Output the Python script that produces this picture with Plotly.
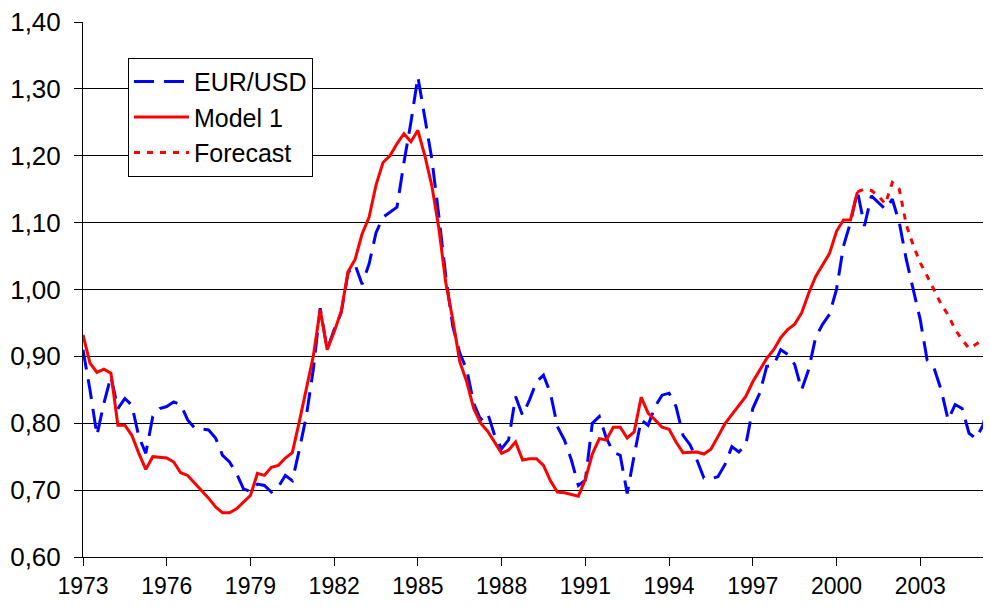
import plotly.graph_objects as go

start_year = 1973
eur_usd = [0.910, 0.850, 0.782, 0.830, 0.870, 0.822, 0.837, 0.827, 0.780, 0.755,
           0.810, 0.822, 0.825, 0.832, 0.828, 0.805, 0.793, 0.792, 0.790, 0.778,
           0.752, 0.742, 0.725, 0.702, 0.698, 0.709, 0.707, 0.697, 0.705, 0.722,
           0.714, 0.760, 0.810, 0.880, 0.972, 0.910, 0.940, 0.965, 1.025, 1.037,
           1.008, 1.038, 1.085, 1.108, 1.116, 1.123, 1.190, 1.250, 1.318, 1.255,
           1.195, 1.110, 1.020, 0.945, 0.905, 0.880, 0.830, 0.805, 0.815, 0.782,
           0.762, 0.775, 0.840, 0.812, 0.835, 0.862, 0.872, 0.845, 0.795, 0.775,
           0.745, 0.707, 0.715, 0.800, 0.810, 0.778, 0.757, 0.752, 0.695, 0.752,
           0.805, 0.797, 0.825, 0.842, 0.845, 0.825, 0.782, 0.768, 0.745, 0.718,
           0.717, 0.720, 0.738, 0.765, 0.757, 0.768, 0.822, 0.845, 0.885, 0.887,
           0.910, 0.903, 0.888, 0.850, 0.880, 0.928, 0.948, 0.963, 1.000, 1.065,
           1.100, 1.147, 1.095, 1.140, 1.130, 1.120, 1.135, 1.100, 1.045, 1.000,
           0.955, 0.894, 0.882, 0.850, 0.805, 0.828, 0.822, 0.785, 0.777, 0.797,
           0.840]

model_1 = [0.932, 0.890, 0.876, 0.881, 0.875, 0.797, 0.797, 0.782, 0.755, 0.731,
           0.750, 0.749, 0.748, 0.742, 0.726, 0.722, 0.711, 0.700, 0.688, 0.675,
           0.666, 0.666, 0.672, 0.682, 0.692, 0.725, 0.722, 0.734, 0.737, 0.748,
           0.756, 0.802, 0.852, 0.900, 0.970, 0.910, 0.937, 0.967, 1.027, 1.045,
           1.083, 1.108, 1.156, 1.190, 1.200, 1.218, 1.233, 1.221, 1.238, 1.200,
           1.155, 1.092, 1.010, 0.955, 0.892, 0.862, 0.822, 0.800, 0.788, 0.772,
           0.755, 0.760, 0.772, 0.745, 0.747, 0.747, 0.737, 0.714, 0.697, 0.696,
           0.694, 0.691, 0.716, 0.754, 0.777, 0.775, 0.794, 0.794, 0.778, 0.787,
           0.839, 0.815, 0.805, 0.794, 0.791, 0.772, 0.756, 0.756, 0.757, 0.754,
           0.761, 0.780, 0.799, 0.813, 0.827, 0.840, 0.862, 0.880, 0.897, 0.910,
           0.928, 0.940, 0.948, 0.965, 0.994, 1.019, 1.036, 1.054, 1.087, 1.104,
           1.104, 1.146]

forecast_start_index = 111
forecast = [1.146, 1.150, 1.148, 1.140, 1.128, 1.160, 1.150, 1.097, 1.066, 1.040,
            1.020, 0.998, 0.978, 0.962, 0.940, 0.925, 0.912, 0.918, 0.925]

tick_years = [1973, 1976, 1979, 1982, 1985, 1988, 1991, 1994, 1997, 2000, 2003]
tick_labels = [str(y) for y in tick_years]
y_ticks = [0.60, 0.70, 0.80, 0.90, 1.00, 1.10, 1.20, 1.30, 1.40]
y_labels = ["0,60", "0,70", "0,80", "0,90", "1,00", "1,10", "1,20", "1,30", "1,40"]


def quarters(first, n):
    return [start_year + (first + i) / 4 for i in range(n)]


fig = go.Figure()
fig.add_trace(go.Scatter(
    x=quarters(0, len(eur_usd)), y=eur_usd, mode="lines", name="EUR/USD",
    line=dict(color="#0000FF", width=3, dash="20px,10px")))
fig.add_trace(go.Scatter(
    x=quarters(0, len(model_1)), y=model_1, mode="lines", name="Model 1",
    line=dict(color="#FF0000", width=3)))
fig.add_trace(go.Scatter(
    x=quarters(forecast_start_index, len(forecast)), y=forecast, mode="lines",
    name="Forecast", line=dict(color="#FF0000", width=3, dash="6px,7px")))

font_family = "Liberation Sans, Arial, sans-serif"
fig.update_layout(
    width=983, height=593,
    margin=dict(l=75, r=1, t=14, b=44),
    paper_bgcolor="white", plot_bgcolor="white",
    font=dict(family=font_family, size=23, color="black"),
    showlegend=True,
    legend=dict(x=0.0496, y=0.933, xanchor="left", yanchor="top",
                bgcolor="white", bordercolor="black", borderwidth=1,
                font=dict(size=25), tracegroupgap=0, itemwidth=55),
    xaxis=dict(range=[1973, 2005.5], tickvals=tick_years, ticktext=tick_labels,
               automargin=False, tickfont=dict(size=23), ticklabeloverflow="allow",
               showgrid=False, zeroline=False, showline=True, linecolor="black",
               linewidth=1, ticks="outside", ticklen=8, tickcolor="black"),
    yaxis=dict(range=[0.60, 1.40], tickvals=y_ticks, ticktext=y_labels,
               automargin=False, tickfont=dict(size=26), ticklabelstandoff=8,
               ticklabeloverflow="allow",
               showgrid=True, gridcolor="#000000", gridwidth=1, zeroline=False,
               showline=True, linecolor="black", linewidth=1,
               ticks="outside", ticklen=8, tickcolor="black"),
)

fig.write_html("out.html")
